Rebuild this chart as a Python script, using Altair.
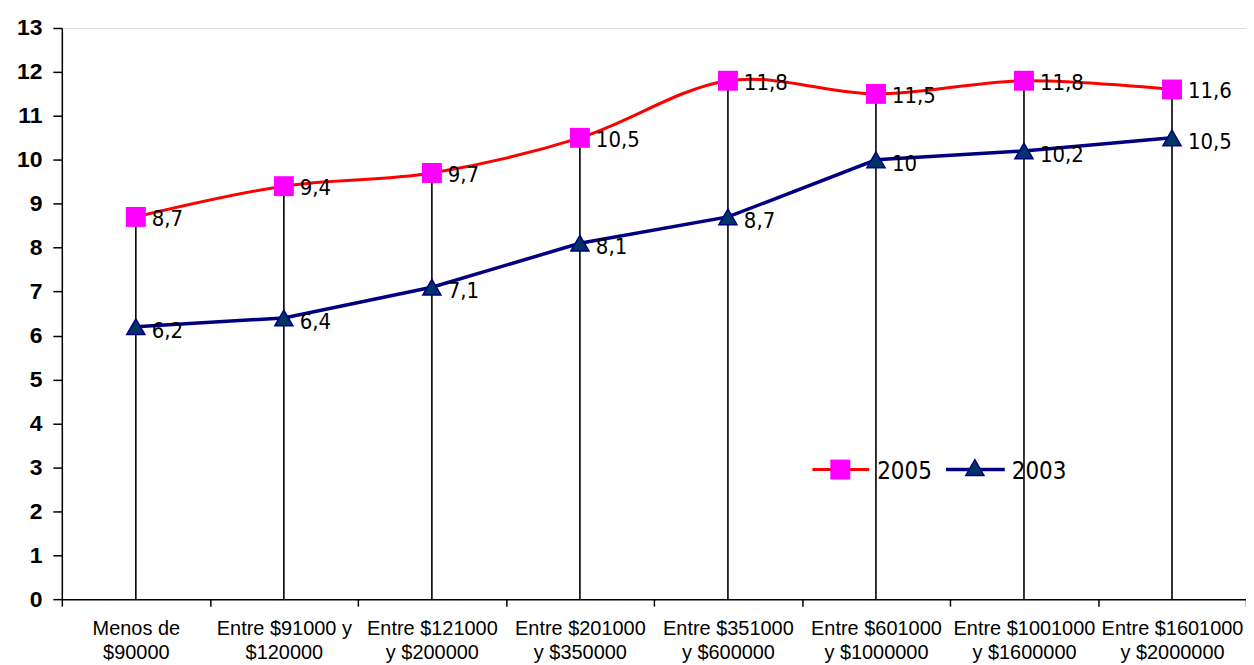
import altair as alt
import pandas as pd

categories = [
    "Menos de|$90000",
    "Entre $91000 y|$120000",
    "Entre $121000|y $200000",
    "Entre $201000|y $350000",
    "Entre $351000|y $600000",
    "Entre $601000|y $1000000",
    "Entre $1001000|y $1600000",
    "Entre $1601000|y $2000000",
]
values_2005 = [8.7, 9.4, 9.7, 10.5, 11.8, 11.5, 11.8, 11.6]
values_2003 = [6.2, 6.4, 7.1, 8.1, 8.7, 10.0, 10.2, 10.5]
y_ticks = list(range(0, 14))

wide = pd.DataFrame({"cat": categories, "v2005": values_2005, "v2003": values_2003})
d05 = pd.DataFrame({"cat": categories, "v": values_2005})
d03 = pd.DataFrame({"cat": categories, "v": values_2003})
one = pd.DataFrame({"k": [0]})

NARROW = "Liberation Sans Narrow, DejaVu Sans Condensed, Arial Narrow, sans-serif"

x_enc = alt.X(
    "cat:N",
    sort=categories,
    scale=alt.Scale(paddingInner=0, paddingOuter=0),
    axis=alt.Axis(
        title=None,
        labelAngle=0,
        labelAlign="center",
        labelBaseline="top",
        labelExpr="split(datum.label, '|')",
        tickBand="extent",
        tickSize=7,
        labelPadding=12,
        labelLineHeight=25,
        labelFont="Liberation Sans",
        labelFontSize=20,
        labelColor="black",
        domainColor="black",
        tickColor="black",
        domainWidth=1.5,
        tickWidth=1.5,
    ),
)
y_scale = alt.Scale(domain=[0, 13], nice=False)
y_enc = alt.Y(
    "v:Q",
    scale=y_scale,
    axis=alt.Axis(
        title=None,
        values=y_ticks,
        grid=False,
        tickSize=9,
        labelPadding=11,
        labelFont="Liberation Sans",
        labelFontWeight="bold",
        labelFontSize=23,
        labelColor="black",
        domainColor="black",
        tickColor="black",
        domainWidth=1.5,
        tickWidth=1.5,
    ),
)

rules = alt.Chart(wide).mark_rule(color="black", strokeWidth=1.6).encode(
    x=alt.X("cat:N", sort=categories),
    y=alt.Y("v2005:Q", scale=y_scale),
    y2=alt.datum(0),
)

line05 = alt.Chart(d05).mark_line(color="#FF0000", strokeWidth=3, interpolate="cardinal").encode(x=x_enc, y=y_enc)
line03 = alt.Chart(d03).mark_line(color="#000080", strokeWidth=3.5).encode(x=x_enc, y=y_enc)
pts05 = alt.Chart(d05).mark_point(shape="square", size=400, filled=True, color="#FF00FF", opacity=1).encode(x=x_enc, y=y_enc)
pts03 = alt.Chart(d03).mark_point(shape="triangle-up", size=330, filled=True, fill="#003366",
                                  stroke="#000080", strokeWidth=1.5, opacity=1).encode(x=x_enc, y=y_enc)

lab_kw = dict(align="left", baseline="middle", font=NARROW, fontSize=22, color="black")
lab05 = alt.Chart(d05).transform_calculate(t="replace(format(datum.v, ''), '.', ',')").mark_text(
    dx=16, dy=2, **lab_kw).encode(x=x_enc, y=y_enc, text="t:N")
lab03 = alt.Chart(d03).transform_calculate(t="replace(format(datum.v, ''), '.', ',')").mark_text(
    dx=16, dy=4, **lab_kw).encode(x=x_enc, y=y_enc, text="t:N")

# legend
LY = 443
leg = [
    alt.Chart(one).mark_rule(color="#FF0000", strokeWidth=3).encode(x=alt.value(753), x2=alt.value(810), y=alt.value(LY)),
    alt.Chart(one).mark_point(shape="square", size=400, filled=True, color="#FF00FF", opacity=1).encode(x=alt.value(781), y=alt.value(LY)),
    alt.Chart(one).mark_text(text="2005", align="left", baseline="middle", font=NARROW, fontSize=24, color="black").encode(x=alt.value(818), y=alt.value(LY + 2)),
    alt.Chart(one).mark_rule(color="#000080", strokeWidth=3.5).encode(x=alt.value(887), x2=alt.value(946), y=alt.value(LY)),
    alt.Chart(one).mark_point(shape="triangle-up", size=330, filled=True, fill="#003366", stroke="#000080", strokeWidth=1.5, opacity=1).encode(x=alt.value(916), y=alt.value(LY - 2)),
    alt.Chart(one).mark_text(text="2003", align="left", baseline="middle", font=NARROW, fontSize=24, color="black").encode(x=alt.value(953), y=alt.value(LY + 2)),
]

chart = alt.layer(rules, line05, line03, pts05, pts03, lab05, lab03, *leg).properties(
    width=1188,
    height=573,
    autosize=alt.AutoSizeParams(type="none"),
    padding={"left": 54, "top": 19, "right": 0, "bottom": 64},
).configure_view(stroke=None).configure(background="white")

chart.save("out.html", embed_options={"renderer": "svg", "actions": False})
